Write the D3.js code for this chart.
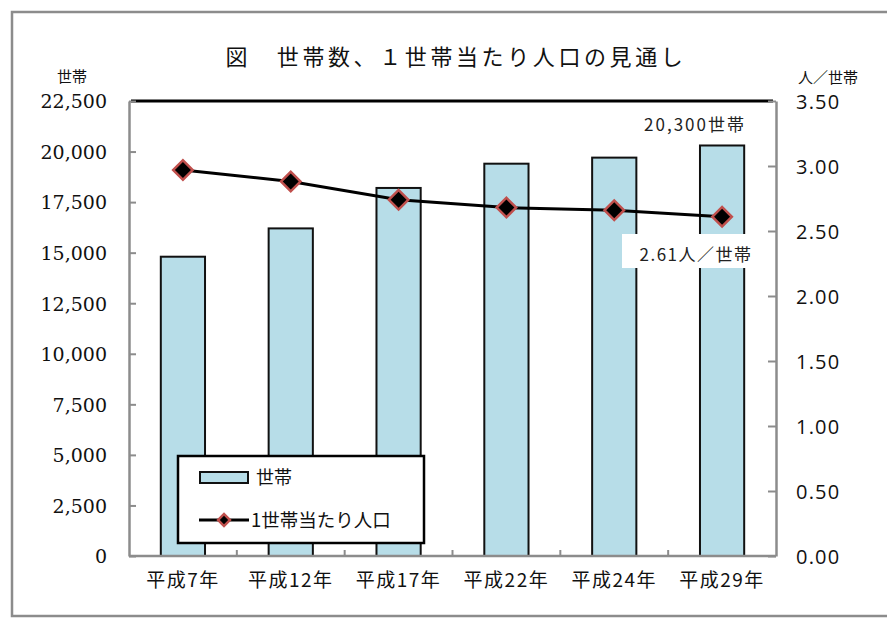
<!DOCTYPE html>
<html>
<head>
<meta charset="utf-8">
<script src="https://cdn.jsdelivr.net/npm/d3@7"></script>
<style>
  body { margin: 0; background: #fff; }
  svg { display: block; }
</style>
</head>
<body>
<svg id="chart" width="887" height="618"></svg>
<script>
// data
var years = ['平成7年', '平成12年', '平成17年', '平成22年', '平成24年', '平成29年']
var households = [14800, 16200, 18200, 19400, 19700, 20300]
var perHousehold = [2.97, 2.88, 2.74, 2.68, 2.66, 2.61]
var leftTicks = [0, 2500, 5000, 7500, 10000, 12500, 15000, 17500, 20000, 22500]
var rightTicks = [0, 0.5, 1, 1.5, 2, 2.5, 3, 3.5]

;(function () {
var jp = '"Noto Sans CJK JP", sans-serif'
var pL = 129, pR = 776, pT = 101, pB = 556

var svg = d3.select('#chart')

// outer frame
svg.append('rect')
  .attr('x', 12).attr('y', 12)
  .attr('width', 900).attr('height', 604)
  .attr('fill', 'none')
  .attr('stroke', '#8c8c8c')
  .attr('stroke-width', 2.5)

var x = d3.scaleBand().domain(years).range([pL, pR])
var y = d3.scaleLinear().domain([0, 22500]).range([pB, pT])
var y2 = d3.scaleLinear().domain([0, 3.5]).range([pB, pT])

// bars
var barW = x.bandwidth() * 0.41
svg.append('g').selectAll('rect')
  .data(households)
  .enter().append('rect')
  .attr('x', function (d, i) { return x(years[i]) + (x.bandwidth() - barW) / 2 })
  .attr('y', function (d) { return y(d) })
  .attr('width', barW)
  .attr('height', function (d) { return pB - y(d) })
  .attr('fill', '#b7dde8')
  .attr('stroke', '#111')
  .attr('stroke-width', 2)

// top line of plot
svg.append('line')
  .attr('x1', pL + 2).attr('x2', pR - 3)
  .attr('y1', y(22500)).attr('y2', y(22500))
  .attr('stroke', '#000').attr('stroke-width', 3)

// left axis
var yAxis = d3.axisLeft(y).tickValues(leftTicks).tickSize(-7).tickSizeOuter(0)
  .tickFormat(d3.format(','))
var gl = svg.append('g').attr('transform', 'translate(' + pL + ',0)').call(yAxis)
gl.select('.domain').attr('stroke', '#8c8c8c').attr('stroke-width', 2.5)
gl.selectAll('.tick line').attr('stroke', '#8c8c8c').attr('stroke-width', 2)
gl.selectAll('.tick text')
  .attr('x', -22)
  .attr('dy', '0.36em')
  .style('font-family', '"DejaVu Serif", serif')
  .style('font-size', '19px')
  .attr('fill', '#111')

// right axis
var y2Axis = d3.axisRight(y2).tickValues(rightTicks).tickSize(-8).tickSizeOuter(0)
  .tickFormat(d3.format('.2f'))
var gr = svg.append('g').attr('transform', 'translate(' + pR + ',0)').call(y2Axis)
gr.select('.domain').attr('stroke', '#8c8c8c').attr('stroke-width', 2.5)
gr.selectAll('.tick line').attr('stroke', '#8c8c8c').attr('stroke-width', 2)
gr.selectAll('.tick text')
  .attr('x', 20)
  .attr('dy', '0.36em')
  .style('font-family', '"Open Sans", sans-serif')
  .style('font-size', '20px')
  .style('letter-spacing', '1.2px')
  .attr('fill', '#111')

// bottom axis: ticks between categories
svg.append('line')
  .attr('x1', pL).attr('x2', pR)
  .attr('y1', pB).attr('y2', pB)
  .attr('stroke', '#8c8c8c').attr('stroke-width', 2.5)
svg.append('g').selectAll('line')
  .data(years.slice(1))
  .enter().append('line')
  .attr('x1', function (d) { return x(d) }).attr('x2', function (d) { return x(d) })
  .attr('y1', pB).attr('y2', pB - 6)
  .attr('stroke', '#8c8c8c').attr('stroke-width', 2)
svg.append('g').selectAll('text')
  .data(years)
  .enter().append('text')
  .attr('x', function (d) { return x(d) + x.bandwidth() / 2 })
  .attr('y', 580)
  .attr('dy', '0.36em')
  .attr('text-anchor', 'middle')
  .style('font-family', jp)
  .style('font-size', '19px')
  .style('letter-spacing', '1.5px')
  .attr('fill', '#111')
  .text(function (d) { return d })

// line series
var line = d3.line()
  .x(function (d, i) { return x(years[i]) + x.bandwidth() / 2 })
  .y(function (d) { return y2(d) })
svg.append('path')
  .datum(perHousehold)
  .attr('d', line)
  .attr('fill', 'none')
  .attr('stroke', '#000')
  .attr('stroke-width', 3)

var diamond = d3.symbol().type(d3.symbolSquare).size(190)
svg.append('g').selectAll('path')
  .data(perHousehold)
  .enter().append('path')
  .attr('d', diamond)
  .attr('transform', function (d, i) {
    return 'translate(' + (x(years[i]) + x.bandwidth() / 2) + ',' + y2(d) + ') rotate(45)'
  })
  .attr('fill', '#000')
  .attr('stroke', '#c0504d')
  .attr('stroke-width', 2.5)

// data labels
svg.append('text')
  .attr('x', 695).attr('y', 125)
  .attr('dy', '0.36em')
  .attr('text-anchor', 'middle')
  .style('font-family', jp)
  .style('font-size', '17px')
  .style('letter-spacing', '2px')
  .attr('fill', '#222')
  .text(d3.format(',')(households[5]) + '世帯')

svg.append('rect')
  .attr('x', 622).attr('y', 234)
  .attr('width', 152).attr('height', 34)
  .attr('fill', '#fff')
svg.append('text')
  .attr('x', 696).attr('y', 255)
  .attr('dy', '0.36em')
  .attr('text-anchor', 'middle')
  .style('font-family', jp)
  .style('font-size', '17px')
  .style('letter-spacing', '1.5px')
  .attr('fill', '#222')
  .text(perHousehold[5] + '人／世帯')

// title and axis units
svg.append('text')
  .attr('x', 456).attr('y', 57)
  .attr('dy', '0.36em')
  .attr('text-anchor', 'middle')
  .style('font-family', jp)
  .style('font-size', '22px')
  .style('letter-spacing', '3.6px')
  .attr('fill', '#111')
  .text('図　世帯数、１世帯当たり人口の見通し')

svg.append('text')
  .attr('x', 72).attr('y', 77)
  .attr('dy', '0.36em')
  .attr('text-anchor', 'middle')
  .style('font-family', jp)
  .style('font-size', '15px')
  .attr('fill', '#111')
  .text('世帯')

svg.append('text')
  .attr('x', 828).attr('y', 78)
  .attr('dy', '0.36em')
  .attr('text-anchor', 'middle')
  .style('font-family', jp)
  .style('font-size', '15px')
  .attr('fill', '#111')
  .text('人／世帯')

// legend
var lg = svg.append('g')
lg.append('rect')
  .attr('x', 178).attr('y', 456)
  .attr('width', 246).attr('height', 87)
  .attr('fill', '#fff')
  .attr('stroke', '#000')
  .attr('stroke-width', 2.5)
lg.append('rect')
  .attr('x', 200).attr('y', 472)
  .attr('width', 48).attr('height', 11)
  .attr('fill', '#b7dde8')
  .attr('stroke', '#111')
  .attr('stroke-width', 2)
lg.append('text')
  .attr('x', 256).attr('y', 478)
  .attr('dy', '0.36em')
  .style('font-family', jp)
  .style('font-size', '18px')
  .attr('fill', '#111')
  .text('世帯')
lg.append('line')
  .attr('x1', 199).attr('x2', 249)
  .attr('y1', 520).attr('y2', 520)
  .attr('stroke', '#000').attr('stroke-width', 3)
lg.append('path')
  .attr('d', d3.symbol().type(d3.symbolSquare).size(70))
  .attr('transform', 'translate(224,520) rotate(45)')
  .attr('fill', '#000')
  .attr('stroke', '#c0504d')
  .attr('stroke-width', 2.5)
lg.append('text')
  .attr('x', 251).attr('y', 520)
  .attr('dy', '0.36em')
  .style('font-family', jp)
  .style('font-size', '18.5px')
  .attr('fill', '#111')
  .text('1世帯当たり人口')
})()
</script>
</body>
</html>
